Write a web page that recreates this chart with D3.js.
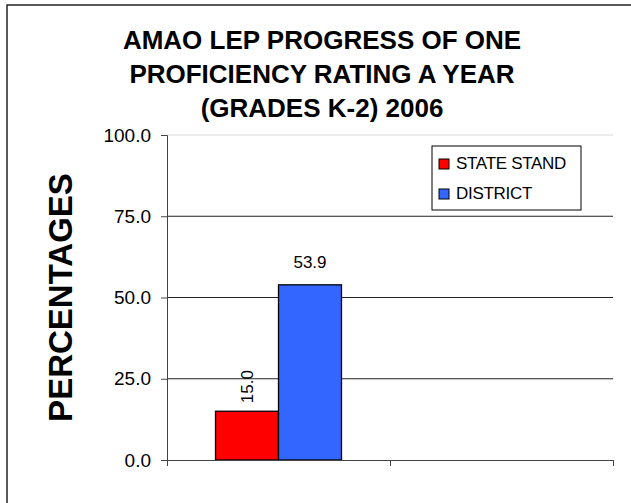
<!DOCTYPE html>
<meta charset="utf-8">
<style>
    body { margin: 0; background: #fff; }
    svg { display: block; font-family: "Liberation Sans", Arial, sans-serif; }
    .grid line { stroke: #222; stroke-width: 1px; }
    .axis path, .axis line { stroke: #444; }
</style>
<body>
<svg width="631" height="503"></svg>
<script src="https://d3js.org/d3.v7.min.js"></script>
<script>

    // chart values
    var categories = ["2006", "other"];
    var seriesNames = ["STATE STAND", "DISTRICT"];
    var stateStand = [15.0, null];
    var district = [53.9, null];
    var seriesColors = ["#ff0000", "#3366ff"];
    var yTicks = [0, 25, 50, 75, 100];
    var titleLines = ["AMAO LEP PROGRESS OF ONE", "PROFICIENCY RATING A YEAR", "(GRADES K-2) 2006"];

    var svg = d3.select("svg"),
        margin = {top: 135, right: 18, bottom: 43, left: 167},
        width = +svg.attr("width") - margin.left - margin.right,
        height = +svg.attr("height") - margin.top - margin.bottom;

    var seriesValues = [stateStand, district];
    var data = categories.map(function (c, i) {
        return {cat: c, values: seriesNames.map(function (s, j) { return {name: s, idx: j, v: seriesValues[j][i]}; })};
    });

    // outer chart border (runs off the right / bottom of the picture)
    svg.append("rect")
        .attr("x", 7).attr("y", 5)
        .attr("width", 700).attr("height", 600)
        .attr("fill", "none")
        .attr("stroke", "#222")
        .attr("stroke-width", 1.5);

    // title
    svg.append("text")
        .attr("x", 322)
        .attr("y", 49)
        .attr("text-anchor", "middle")
        .style("font-size", "26px")
        .style("font-weight", "bold")
        .selectAll("tspan")
        .data(titleLines)
        .enter().append("tspan")
        .attr("x", 322)
        .attr("dy", function (d, i) { return i === 0 ? 0 : 34; })
        .text(function (d) { return d; });

    var x0 = d3.scaleBand()
        .domain(categories)
        .range([0, width])
        .paddingInner(0.435)
        .paddingOuter(0.2175);

    var x1 = d3.scaleBand()
        .domain(seriesNames)
        .range([0, x0.bandwidth()]);

    var y = d3.scaleLinear().domain([0, 100]).range([height, 0]);

    var g = svg.append("g")
        .attr("transform", "translate(" + margin.left + "," + margin.top + ")");

    // gridlines
    g.append("g")
        .attr("class", "grid")
        .selectAll("line")
        .data(yTicks.filter(function (d) { return d > 0; }))
        .enter().append("line")
        .attr("x1", 0).attr("x2", width)
        .attr("y1", function (d) { return y(d); })
        .attr("y2", function (d) { return y(d); })
        .style("stroke", function (d) { return d === 100 ? "#d8d8d8" : null; });

    // bars
    var groups = g.selectAll(".cat")
        .data(data)
        .enter().append("g")
        .attr("class", "cat")
        .attr("transform", function (d) { return "translate(" + x0(d.cat) + ",0)"; });

    groups.selectAll("rect")
        .data(function (d) { return d.values.filter(function (v) { return v.v != null; }); })
        .enter().append("rect")
        .attr("x", function (d) { return x1(d.name); })
        .attr("y", function (d) { return y(d.v); })
        .attr("width", x1.bandwidth())
        .attr("height", function (d) { return height - y(d.v); })
        .attr("fill", function (d) { return seriesColors[d.idx]; })
        .attr("stroke", "#000")
        .attr("stroke-width", 1.3);

    // value labels (first series label is drawn rotated, as in the original)
    groups.selectAll(".lbl")
        .data(function (d) { return d.values.filter(function (v) { return v.v != null; }); })
        .enter().append("text")
        .attr("class", "lbl")
        .style("font-size", "17px")
        .attr("text-anchor", function (d) { return d.idx === 0 ? "start" : "middle"; })
        .attr("transform", function (d) {
            var cx = x1(d.name) + x1.bandwidth() / 2;
            if (d.idx === 0) return "translate(" + cx + "," + (y(d.v) - 8) + ") rotate(-90)";
            return "translate(" + cx + "," + (y(d.v) - 17) + ")";
        })
        .attr("dy", function (d) { return d.idx === 0 ? "0.36em" : 0; })
        .text(function (d) { return d3.format(".1f")(d.v); });

    // y axis
    var yAxis = d3.axisLeft(y)
        .tickValues(yTicks)
        .tickSize(6)
        .tickPadding(10)
        .tickFormat(d3.format(".1f"));

    g.append("g")
        .attr("class", "axis axis--y")
        .call(yAxis)
        .call(function (a) {
            a.select(".domain").attr("d", "M-6,0.5H0.5V" + height);
            a.selectAll("text").style("font-size", "19px").attr("fill", "#000");
        });

    // x axis: ticks at category boundaries, no labels
    var edges = categories.map(function (c) { return x0(c) - x0.step() * x0.paddingInner() / 2; });
    edges[0] = 0;
    edges.push(width);

    var xEdge = d3.scaleLinear().domain([0, width]).range([0, width]);
    g.append("g")
        .attr("class", "axis axis--x")
        .attr("transform", "translate(0," + height + ")")
        .call(d3.axisBottom(xEdge).tickValues(edges).tickSize(6).tickFormat(""))
        .call(function (a) { a.select(".domain").attr("d", "M0,0.5H" + width); });

    // y axis title
    svg.append("text")
        .attr("transform", "translate(60," + (margin.top + height / 2) + ") rotate(-90)")
        .attr("text-anchor", "middle")
        .attr("dy", "0.36em")
        .style("font-size", "33px")
        .style("font-weight", "bold")
        .text("PERCENTAGES");

    // legend
    var legend = svg.append("g").attr("transform", "translate(432,146)");
    legend.append("rect")
        .attr("width", 149).attr("height", 64)
        .attr("fill", "#fff")
        .attr("stroke", "#000");

    var item = legend.selectAll(".item")
        .data(seriesNames)
        .enter().append("g")
        .attr("class", "item")
        .attr("transform", function (d, i) { return "translate(7," + (13 + i * 30) + ")"; });

    item.append("rect")
        .attr("width", 10).attr("height", 10)
        .attr("fill", function (d, i) { return seriesColors[i]; })
        .attr("stroke", "#000");

    item.append("text")
        .attr("x", 17)
        .attr("y", 10)
        .style("font-size", "17px")
        .style("letter-spacing", "-0.3px")
        .text(function (d) { return d; });

</script>
</body>
